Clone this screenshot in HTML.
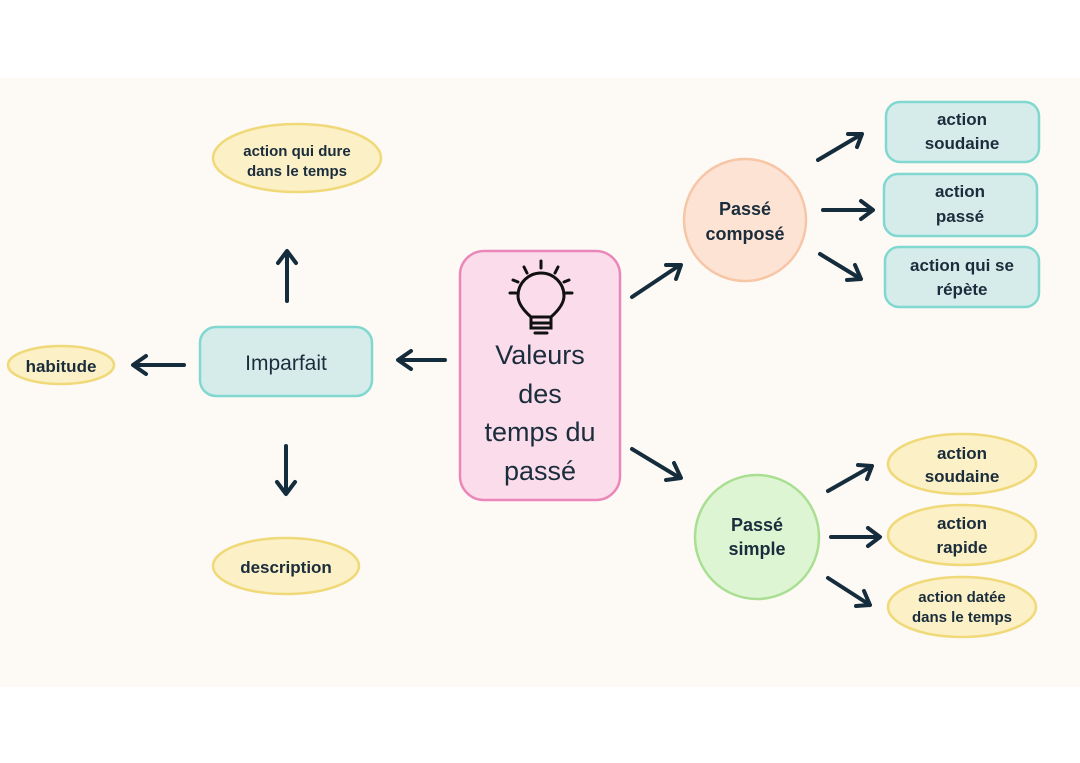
<!DOCTYPE html>
<html><head><meta charset="utf-8"><style>
html,body{margin:0;padding:0;background:#fff;}
svg{display:block}
text{font-family:"Liberation Sans","DejaVu Sans",sans-serif;fill:#1b2d3c;font-weight:bold;text-anchor:middle}
</style></head><body>
<svg width="1080" height="763" viewBox="0 0 1080 763" xmlns="http://www.w3.org/2000/svg">
<rect x="0" y="0" width="1080" height="763" fill="#ffffff"/>
<rect x="0" y="78" width="1080" height="609" fill="#fdf9f4"/>

<!-- center -->
<rect x="460" y="251" width="160" height="249" rx="24" fill="#fbdcea" stroke="#ea86b9" stroke-width="2.5"/>
<g stroke="#111" stroke-width="3" fill="none" stroke-linecap="round">
<path d="M531,317 C522,309 518,302 518,296 A23,23 0 0 1 564,296 C564,302 560,309 551,317 Z"/>
<path d="M531,318 L531,328 L551,328 L551,318 M531,323 L551,323"/>
<path d="M535,333 L547,333"/>
<path d="M541,261 L541,268 M524,267 L527,273 M558,267 L555,273 M510,293 L516,293 M566,293 L572,293 M513,280 L518,282 M569,280 L564,282"/>
</g>
<text x="540" y="364" font-size="27" style="font-weight:normal">Valeurs</text>
<text x="540" y="403" font-size="27" style="font-weight:normal">des</text>
<text x="540" y="441" font-size="27" style="font-weight:normal">temps du</text>
<text x="540" y="480" font-size="27" style="font-weight:normal">passé</text>

<!-- Imparfait -->
<rect x="200" y="327" width="172" height="69" rx="16" fill="#d6ecea" stroke="#80d8d1" stroke-width="2.5"/>
<text x="286" y="370" font-size="21" style="font-weight:normal">Imparfait</text>

<g fill="#fbf0c6" stroke="#f0d978" stroke-width="2.5">
<ellipse cx="61" cy="365" rx="53" ry="19"/>
<ellipse cx="297" cy="158" rx="84" ry="34"/>
<ellipse cx="286" cy="566" rx="73" ry="28"/>
<ellipse cx="962" cy="464" rx="74" ry="30"/>
<ellipse cx="962" cy="535" rx="74" ry="30"/>
<ellipse cx="962" cy="607" rx="74" ry="30"/>
</g>
<text x="61" y="372" font-size="17">habitude</text>
<text x="297" y="156" font-size="15">action qui dure</text>
<text x="297" y="176" font-size="15">dans le temps</text>
<text x="286" y="573" font-size="17">description</text>
<text x="962" y="459" font-size="17">action</text>
<text x="962" y="482" font-size="17">soudaine</text>
<text x="962" y="529" font-size="17">action</text>
<text x="962" y="553" font-size="17">rapide</text>
<text x="962" y="602" font-size="15">action datée</text>
<text x="962" y="622" font-size="15">dans le temps</text>

<!-- Passé composé -->
<circle cx="745" cy="220" r="61" fill="#fde3d4" stroke="#f6c6a7" stroke-width="2.5"/>
<text x="745" y="215" font-size="18">Passé</text>
<text x="745" y="240" font-size="18">composé</text>
<!-- Passé simple -->
<circle cx="757" cy="537" r="62" fill="#def5d4" stroke="#a9df93" stroke-width="2.5"/>
<text x="757" y="531" font-size="18">Passé</text>
<text x="757" y="555" font-size="18">simple</text>

<g fill="#d6ecea" stroke="#80d8d1" stroke-width="2.5">
<rect x="886" y="102" width="153" height="60" rx="14"/>
<rect x="884" y="174" width="153" height="62" rx="14"/>
<rect x="885" y="247" width="154" height="60" rx="14"/>
</g>
<text x="962" y="125" font-size="17">action</text>
<text x="962" y="149" font-size="17">soudaine</text>
<text x="960" y="197" font-size="17">action</text>
<text x="960" y="222" font-size="17">passé</text>
<text x="962" y="271" font-size="17">action qui se</text>
<text x="962" y="295" font-size="17">répète</text>

<!-- arrows -->
<g stroke="#142c3c" stroke-width="4" fill="none" stroke-linecap="round" stroke-linejoin="round">
<path d="M287,301 L287,252 M278,263 L287,251 L296,263"/>
<path d="M286,446 L286,493 M277,482 L286,494 L295,482"/>
<path d="M184,365 L134,365 M146,356 L133,365 L146,374"/>
<path d="M445,360 L399,360 M411,351 L398,360 L411,369"/>
<path d="M632,297 L680,265 M666,265 L681,265 L676,279"/>
<path d="M632,449 L680,478 M674,463 L681,478 L666,480"/>
<path d="M818,160 L862,134 M848,134 L862,134 L857,147"/>
<path d="M823,210 L872,210 M861,201 L873,210 L861,219"/>
<path d="M820,254 L861,279 M855,265 L861,279 L847,280"/>
<path d="M828,491 L872,466 M858,465 L872,466 L867,479"/>
<path d="M831,537 L879,537 M868,528 L880,537 L868,546"/>
<path d="M828,578 L870,605 M864,591 L870,605 L856,606"/>
</g>
</svg>
</body></html>
